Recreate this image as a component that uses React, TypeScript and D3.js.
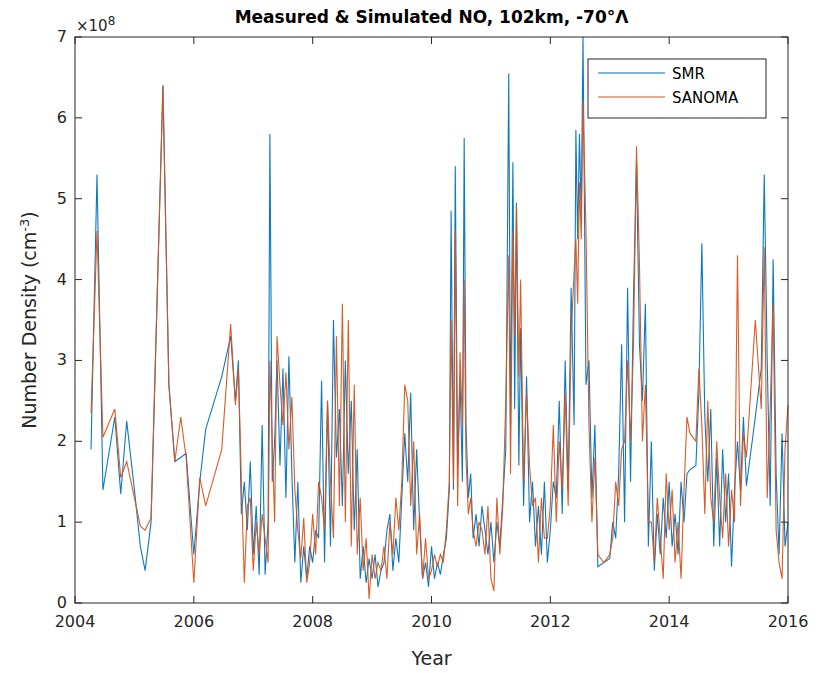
import React from "react";
import * as d3 from "d3";

// decimal year, SMR (1e8 cm^-3), SANOMA (1e8 cm^-3)
const dates = [
  2004.27, 2004.37, 2004.47, 2004.67, 2004.77, 2004.87, 2005.0, 2005.1, 2005.18, 2005.28,
  2005.48, 2005.58, 2005.68, 2005.78, 2005.87, 2006.0, 2006.1, 2006.2, 2006.47, 2006.62,
  2006.7, 2006.75, 2006.8, 2006.85, 2006.9, 2006.95, 2007.0, 2007.05, 2007.1, 2007.15, 2007.2, 2007.25, 2007.28,
  2007.32, 2007.36, 2007.4, 2007.45, 2007.5, 2007.55, 2007.6, 2007.65, 2007.7, 2007.75,
  2007.8, 2007.85, 2007.9, 2007.95, 2008.0, 2008.05, 2008.1, 2008.15, 2008.2, 2008.25,
  2008.3, 2008.35, 2008.4, 2008.45, 2008.5, 2008.55, 2008.6, 2008.65, 2008.7, 2008.75,
  2008.8, 2008.85, 2008.9, 2008.95, 2009.0, 2009.05, 2009.1, 2009.15, 2009.2, 2009.25,
  2009.3, 2009.35, 2009.4, 2009.45, 2009.5, 2009.55, 2009.6, 2009.65, 2009.7, 2009.75,
  2009.8, 2009.85, 2009.9, 2009.95, 2010.0, 2010.05, 2010.1, 2010.15, 2010.2, 2010.25,
  2010.3, 2010.33, 2010.37, 2010.4, 2010.44, 2010.48, 2010.52, 2010.55, 2010.58, 2010.62,
  2010.66, 2010.7, 2010.75, 2010.8, 2010.85, 2010.9, 2010.95, 2011.0, 2011.05, 2011.1,
  2011.15, 2011.2, 2011.25, 2011.3, 2011.33, 2011.37, 2011.4, 2011.43, 2011.47, 2011.5,
  2011.55, 2011.6, 2011.65, 2011.7, 2011.75, 2011.8, 2011.85, 2011.9, 2011.95, 2012.0,
  2012.05, 2012.1, 2012.15, 2012.2, 2012.25, 2012.3, 2012.35, 2012.4, 2012.43, 2012.46,
  2012.49, 2012.52, 2012.55, 2012.6, 2012.65, 2012.7, 2012.75, 2012.8, 2012.9, 2013.0,
  2013.05, 2013.1, 2013.15, 2013.2, 2013.25, 2013.3, 2013.35, 2013.4, 2013.45, 2013.5,
  2013.55, 2013.6, 2013.65, 2013.7, 2013.75, 2013.8, 2013.85, 2013.9, 2013.95, 2014.0,
  2014.05, 2014.1, 2014.15, 2014.2, 2014.25, 2014.3, 2014.35, 2014.45, 2014.5, 2014.55,
  2014.6, 2014.65, 2014.7, 2014.75, 2014.8, 2014.85, 2014.9, 2014.95, 2015.0, 2015.05,
  2015.1, 2015.15, 2015.2, 2015.25, 2015.3, 2015.45, 2015.55, 2015.6, 2015.65, 2015.7,
  2015.75, 2015.8, 2015.85, 2015.9, 2015.95, 2016.0,
];
const smr = [
  1.9, 5.3, 1.4, 2.3, 1.35, 2.25, 1.4, 0.7, 0.4, 1.0,
  6.4, 2.7, 1.75, 1.8, 1.85, 0.6, 1.5, 2.15, 2.8, 3.3,
  2.5, 3.0, 1.1, 1.5, 0.9, 1.75, 0.6, 1.2, 0.35, 2.2, 0.35, 1.0, 5.8,
  1.5, 2.0, 3.0, 1.7, 2.9, 1.3, 3.05, 1.6, 0.5, 1.5,
  0.25, 0.7, 0.3, 0.7, 0.5, 0.9, 0.8, 2.75, 0.5, 2.5,
  0.7, 3.5, 1.8, 2.4, 1.2, 3.0, 1.6, 2.5, 0.9, 1.9,
  0.3, 0.7, 0.25, 0.55, 0.3, 0.6, 0.2, 0.4, 0.5, 0.9,
  1.1, 0.4, 0.8, 0.5, 1.3, 2.1, 1.5, 2.6, 0.9, 1.9,
  1.0, 0.3, 0.5, 0.2, 0.7, 0.3, 0.5, 0.35, 0.6, 0.8,
  1.4, 4.85, 1.4, 5.4, 1.7, 2.8, 1.5, 5.75, 2.2, 1.3,
  1.6, 0.8, 1.1, 0.7, 1.2, 0.9, 0.6, 1.0, 0.5, 1.0,
  0.7, 1.3, 1.9, 6.55, 2.2, 5.45, 2.4, 4.95, 1.7, 3.4,
  1.2, 2.8, 1.0, 1.5, 0.7, 1.2, 0.6, 1.5, 0.5, 0.9,
  1.5, 1.3, 2.5, 1.1, 3.0, 1.4, 3.9, 2.2, 5.85, 4.5,
  5.8, 4.8, 7.0, 2.7, 3.0, 1.3, 2.2, 0.45, 0.5, 0.55,
  1.0, 0.8, 1.6, 3.2, 1.0, 3.9, 1.5, 3.8, 5.45, 3.2,
  2.5, 3.7, 0.7, 2.0, 0.4, 1.1, 0.6, 1.3, 0.8, 1.5,
  0.7, 1.1, 0.6, 1.5, 1.0, 1.6, 1.65, 1.7, 2.6, 4.45,
  2.3, 1.5, 2.4, 0.7, 1.8, 0.7, 1.9, 1.0, 1.6, 0.45,
  1.4, 2.0, 1.4, 2.3, 1.45, 2.3, 2.9, 5.3, 3.0, 1.2,
  4.25, 1.6, 0.6, 2.1, 0.7, 1.0,
];
const sanoma = [
  2.35, 4.6, 2.05, 2.4, 1.55, 1.75, 1.3, 0.95, 0.9, 1.05,
  6.4, 2.7, 1.75, 2.3, 1.8, 0.25, 1.55, 1.2, 1.9, 3.45,
  2.45, 2.9, 1.5, 0.25, 1.2, 1.3, 0.4, 1.0, 0.6, 1.1, 0.8, 0.5, 3.0,
  2.0, 1.0, 3.3, 2.7, 2.2, 2.85, 1.9, 2.55, 1.4, 0.9,
  0.55, 1.05, 0.25, 0.5, 1.1, 0.6, 1.5, 1.3, 0.9, 2.5,
  1.5, 0.8, 3.3, 1.2, 3.7, 1.0, 3.5, 0.7, 2.7, 0.6,
  1.3, 0.4, 0.8, 0.05, 0.6, 0.3, 0.5, 0.4, 0.7, 0.3,
  1.0, 0.6, 1.3, 0.9, 1.5, 2.7, 2.5, 1.2, 2.0, 0.6,
  1.1, 0.3, 0.8, 0.3, 0.4, 0.6, 0.45, 0.6, 0.5, 0.9,
  1.5, 3.5, 1.5, 4.6, 1.2, 3.1, 2.2, 4.0, 1.8, 1.1,
  1.3, 0.9, 0.7, 1.0, 0.9, 0.6, 1.2, 0.3, 0.15, 1.3,
  0.6, 1.2, 2.5, 4.3, 1.6, 4.6, 3.3, 4.9, 2.8, 4.0,
  1.5, 2.6, 1.7, 1.2, 1.3, 0.5, 1.3, 0.8, 0.8, 1.2,
  2.2, 1.0, 2.0, 1.4, 2.6, 1.2, 3.3, 4.1, 4.5, 3.7,
  5.2, 4.5, 6.2, 4.6, 2.2, 1.0, 1.8, 0.6, 0.5, 0.6,
  0.8, 1.5, 1.2, 1.9, 2.0, 3.0, 2.0, 3.2, 5.65, 4.2,
  2.0, 2.7, 1.0, 1.0, 0.5, 1.3, 0.8, 0.3, 1.6, 0.9,
  1.4, 0.5, 1.0, 0.3, 1.4, 2.3, 2.1, 2.0, 2.9, 2.2,
  1.1, 2.5, 1.3, 1.0, 2.0, 1.3, 0.8, 1.6, 0.7, 1.4,
  1.0, 4.3, 1.2, 2.1, 1.8, 3.5, 2.4, 4.4, 1.3, 2.4,
  3.7, 0.9, 0.5, 0.3, 1.9, 2.45,
];
const xTicks = [2004, 2006, 2008, 2010, 2012, 2014, 2016];
const yTicks = [0, 1, 2, 3, 4, 5, 6, 7];
const series = [
  { name: "SMR", values: smr, color: "#0072BD" },
  { name: "SANOMA", values: sanoma, color: "#D95319" },
];

const W = 818, H = 673;
const m = { left: 75, right: 30, top: 37, bottom: 70 };
const font = "'DejaVu Sans', sans-serif";

export default function App() {
  const x = d3.scaleLinear().domain([2004, 2016]).range([m.left, W - m.right]);
  const y = d3.scaleLinear().domain([0, 7]).range([H - m.bottom, m.top]);
  const line = (vals: number[]) =>
    d3.line<number>().x((_, i) => x(dates[i])).y((d) => y(d))(vals) ?? "";
  const x0 = m.left, x1 = W - m.right, y0 = H - m.bottom, y1 = m.top;
  const tick = 7;
  return (
    <svg width={W} height={H} style={{ position: "absolute", left: 0, top: 0, background: "#fff" }} fontFamily={font}>
      {series.map((s) => (
        <path key={s.name} d={line(s.values)} fill="none" stroke={s.color} strokeWidth={1.1} opacity={0.95} />
      ))}
      <rect x={x0} y={y1} width={x1 - x0} height={y0 - y1} fill="none" stroke="#262626" strokeWidth={1} />
      {xTicks.map((t) => (
        <g key={t}>
          <line x1={x(t)} x2={x(t)} y1={y0} y2={y0 - tick} stroke="#262626" />
          <line x1={x(t)} x2={x(t)} y1={y1} y2={y1 + tick} stroke="#262626" />
          <text x={x(t)} y={y0 + 24} textAnchor="middle" fontSize={16} fill="#262626">{t}</text>
        </g>
      ))}
      {yTicks.map((t) => (
        <g key={t}>
          <line x1={x0} x2={x0 + tick} y1={y(t)} y2={y(t)} stroke="#262626" />
          <line x1={x1} x2={x1 - tick} y1={y(t)} y2={y(t)} stroke="#262626" />
          <text x={x0 - 8} y={y(t) + 5} textAnchor="end" fontSize={16} fill="#262626">{t}</text>
        </g>
      ))}
      <text x={76} y={31} fontSize={15} fill="#262626">×10<tspan dy={-6} fontSize={12}>8</tspan></text>
      <text x={(x0 + x1) / 2} y={23} textAnchor="middle" fontSize={17} fontWeight="bold" fill="#000">
        Measured &amp; Simulated NO, 102km, -70°Λ
      </text>
      <text x={(x0 + x1) / 2} y={665} textAnchor="middle" fontSize={19} fill="#262626">Year</text>
      <text transform={`translate(36,${(y0 + y1) / 2}) rotate(-90)`} textAnchor="middle" fontSize={19} fill="#262626">
        Number Density (cm<tspan dy={-7} fontSize={13}>-3</tspan><tspan dy={7}>)</tspan>
      </text>
      <g>
        <rect x={588} y={59} width={178} height={59} fill="#fff" stroke="#262626" />
        {series.map((s, i) => (
        <g key={s.name}>
          <line x1={598} x2={665} y1={73 + i * 24} y2={73 + i * 24} stroke={s.color} strokeWidth={1.2} />
          <text x={672} y={79 + i * 24} fontSize={15} fill="#000">{s.name}</text>
        </g>
        ))}
      </g>
    </svg>
  );
}
